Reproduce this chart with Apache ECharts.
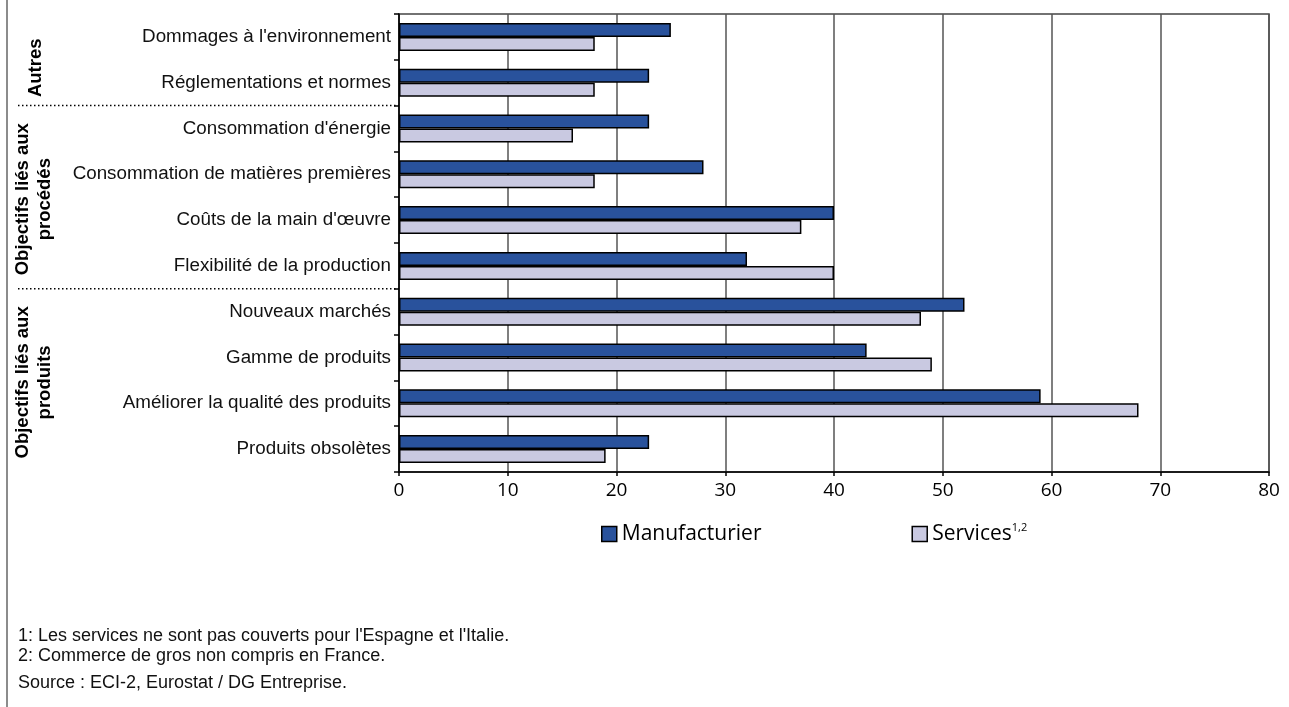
<!DOCTYPE html>
<html>
<head>
<meta charset="utf-8">
<script src="https://cdn.jsdelivr.net/npm/echarts@6/dist/echarts.min.js"></script>
<style>
  html, body { margin: 0; padding: 0; background: #fff; }
  #chart { width: 1289px; height: 707px; }
</style>
</head>
<body>
<div id="chart"></div>
<script>
// Objectives of innovation, share of enterprises (%)
const categories = [
  "Dommages à l'environnement",
  "Réglementations et normes",
  "Consommation d'énergie",
  "Consommation de matières premières",
  "Coûts de la main d'œuvre",
  "Flexibilité de la production",
  "Nouveaux marchés",
  "Gamme de produits",
  "Améliorer la qualité des produits",
  "Produits obsolètes"
];
const manufacturier = [25, 23, 23, 28, 40, 32, 52, 43, 59, 23];
const services = [18, 18, 16, 18, 37, 40, 48, 49, 68, 19];
const seriesNames = ["Manufacturier", "Services"];
const xTicks = [0, 10, 20, 30, 40, 50, 60, 70, 80];

// Category groups: [label, first index, last index]
const groups = [
  ["Autres", 0, 1],
  ["Objectifs liés aux\nprocédés", 2, 5],
  ["Objectifs liés aux\nproduits", 6, 9]
];
const footnotes = [
  "1: Les services ne sont pas couverts pour l'Espagne et l'Italie.",
  "2: Commerce de gros non compris en France.",
  "Source : ECI-2, Eurostat / DG Entreprise."
];

const SANS = "'Liberation Sans', Arial, sans-serif";
const HUMAN = "'Open Sans', sans-serif";

const chart = echarts.init(document.getElementById('chart'), null, { renderer: 'canvas' });

const option = {
  backgroundColor: '#fff',
  animation: false,
  grid: {
    left: 399, right: 20, top: 14, bottom: 235,
    show: true, borderColor: '#444', borderWidth: 1.5, backgroundColor: 'transparent'
  },
  legend: {
    data: seriesNames,
    left: 596, top: 517,
    icon: 'rect', itemWidth: 15, itemHeight: 15, itemGap: 150,
    itemStyle: { borderColor: '#000', borderWidth: 1.5 },
    formatter: function (name) {
      return name === 'Services' ? '{n|Services}{s|1,2}' : '{n|' + name + '}';
    },
    textStyle: {
      rich: {
        n: { fontFamily: HUMAN, fontSize: 21, color: '#000', lineHeight: 24 },
        s: { fontFamily: HUMAN, fontSize: 11, color: '#000', verticalAlign: 'top', lineHeight: 24 }
      }
    }
  },
  xAxis: {
    type: 'value',
    min: xTicks[0], max: xTicks[xTicks.length - 1], interval: 10,
    axisLine: { show: true, lineStyle: { color: '#000', width: 1.5 } },
    axisTick: { show: true, length: 4, lineStyle: { color: '#000', width: 1.5 } },
    axisLabel: { fontFamily: HUMAN, fontSize: 19, color: '#000', margin: 9 },
    splitLine: { show: true, lineStyle: { color: '#555', width: 1.5 } }
  },
  yAxis: {
    type: 'category',
    data: categories,
    inverse: true,
    axisLine: { show: true, lineStyle: { color: '#000', width: 1.5 } },
    axisTick: { show: true, length: 5, lineStyle: { color: '#000', width: 1.5 } },
    axisLabel: { fontFamily: SANS, fontSize: 18.8, color: '#111', margin: 8 },
    splitLine: { show: false }
  },
  series: [
    {
      name: seriesNames[0], type: 'bar', data: manufacturier,
      barWidth: 14, barGap: '0%',
      itemStyle: { color: '#29529C', borderColor: '#000', borderWidth: 1.5 }
    },
    {
      name: seriesNames[1], type: 'bar', data: services,
      barWidth: 14, barGap: '0%',
      itemStyle: { color: '#C9C9E1', borderColor: '#000', borderWidth: 1.5 }
    }
  ]
};
chart.setOption(option);

// Group separators and rotated group titles placed from the category axis
const y0 = chart.convertToPixel({ yAxisIndex: 0 }, 0);
const y1 = chart.convertToPixel({ yAxisIndex: 0 }, 1);
const step = y1 - y0;
const axisX = chart.convertToPixel({ xAxisIndex: 0 }, 0);
const graphics = [];

// frame line on the left
graphics.push({
  type: 'line', shape: { x1: 7, y1: 0, x2: 7, y2: 707 },
  style: { stroke: '#666', lineWidth: 1.5 }, silent: true
});

groups.forEach(function (g, i) {
  const top = y0 + (g[1] - 0.5) * step;
  const bottom = y0 + (g[2] + 0.5) * step;
  if (i > 0) {
    graphics.push({
      type: 'line', shape: { x1: 18, y1: top, x2: axisX, y2: top },
      style: { stroke: '#000', lineWidth: 1.5, lineDash: [1.5, 2.5] }, silent: true
    });
  }
  const cy = i === 0 ? top + (bottom - top) / 2 + 8 : (top + bottom) / 2 + 2;
  graphics.push({
    type: 'text', x: i === 0 ? 36 : 34, y: cy, rotation: Math.PI / 2,
    style: {
      text: g[0], fontFamily: SANS, fontSize: 18.5, fontWeight: 'bold', fill: '#000',
      align: 'center', verticalAlign: 'middle', lineHeight: 22
    },
    silent: true
  });
});

// footnotes
const noteY = [636, 656, 683];
footnotes.forEach(function (t, i) {
  graphics.push({
    type: 'text', x: 18, y: noteY[i],
    style: { text: t, fontFamily: SANS, fontSize: 18, fill: '#111', align: 'left', verticalAlign: 'middle' },
    silent: true
  });
});

chart.setOption({ graphic: graphics });
</script>
</body>
</html>
